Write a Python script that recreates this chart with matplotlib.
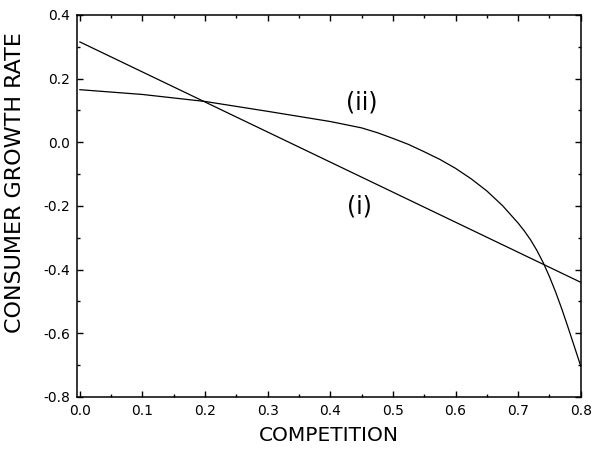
import numpy as np
import matplotlib.pyplot as plt
from matplotlib.ticker import MultipleLocator

# line (i): straight
line_i_x = [0.0, 0.8]
line_i_y = [0.315, -0.44]

# curve (ii)
curve_ii_x = [0.0, 0.1, 0.2, 0.3, 0.4, 0.45, 0.475, 0.5, 0.525, 0.55, 0.575, 0.6,
              0.625, 0.65, 0.675, 0.69, 0.7, 0.71, 0.72, 0.73, 0.74, 0.75, 0.76,
              0.77, 0.78, 0.79, 0.8]
curve_ii_y = [0.165, 0.150, 0.128, 0.097, 0.065, 0.045, 0.030, 0.012, -0.007, -0.030,
              -0.054, -0.082, -0.115, -0.153, -0.199, -0.232, -0.254, -0.279, -0.307,
              -0.340, -0.378, -0.422, -0.471, -0.525, -0.583, -0.643, -0.703]

fig = plt.figure(figsize=(5.95, 4.51), dpi=100, facecolor='w')
ax = fig.add_axes([0.129, 0.120, 0.847, 0.847])

ax.plot(line_i_x, line_i_y, color='k', lw=0.9)
ax.plot(curve_ii_x, curve_ii_y, color='k', lw=0.9)

ax.text(0.451, 0.124, '(ii)', fontsize=17, ha='center', va='center')
ax.text(0.447, -0.203, '(i)', fontsize=17, ha='center', va='center')

ax.set_xlim(-0.005, 0.8)
ax.set_ylim(-0.8, 0.4)
ax.xaxis.set_minor_locator(MultipleLocator(0.05))
ax.yaxis.set_minor_locator(MultipleLocator(0.1))
xt = np.arange(0, 0.81, 0.1)
yt = np.arange(-0.8, 0.41, 0.2)
ax.set_xticks(xt)
ax.set_xticklabels(['%.1f' % v for v in xt])
ax.set_yticks(yt)
ax.set_yticklabels(['%.1f' % v if abs(v) > 1e-9 else '0.0' for v in yt])

ax.tick_params(which='both', direction='in', top=True, right=True, labelsize=10, width=1)
ax.tick_params(which='major', length=4, pad=5)
ax.tick_params(which='minor', length=2)
for s in ax.spines.values():
    s.set_linewidth(1.1)

ax.set_xlabel('COMPETITION', fontsize=14.5, labelpad=6)
ax.set_ylabel('CONSUMER GROWTH RATE', fontsize=16)
ax.yaxis.set_label_coords(-0.102, 0.56)

fig.savefig('out.png', dpi=100)
